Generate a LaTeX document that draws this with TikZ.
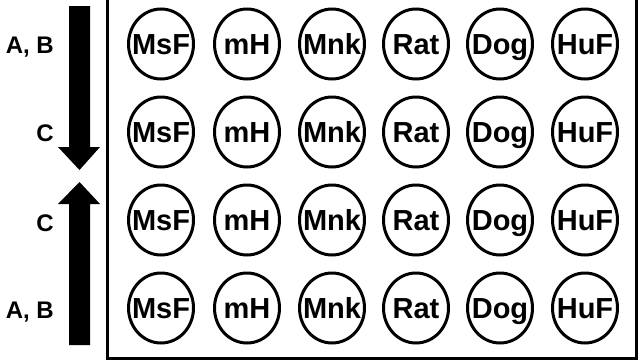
\documentclass[tikz,border=0pt]{standalone}
\usepackage{fontspec}
\setmainfont{Liberation Sans}

\tikzset{
  dish/.style={inner sep=0pt,anchor=base,
    font=\bfseries\fontsize{29}{29}\selectfont},
  ring/.style={draw,line width=3pt},
  lbl/.style={anchor=base east,inner sep=0pt,font=\bfseries\fontsize{24}{24}\selectfont},
  blockarrow/.style={fill=black,draw=none}
}

\begin{document}
\begin{tikzpicture}[x=1pt,y=-1pt]
\useasboundingbox (0,0) rectangle (640,362);
% frame, open at the top
\draw[line width=3pt] (107.5,0) -- (107.5,358.5) -- (636.5,358.5) -- (636.5,0);
% samples
\foreach \r/\yy in {1/44,2/132,3/220,4/308} {
  \foreach \c/\xx/\n in {1/161/MsF,2/247/mH,3/332/Mnk,4/416/Rat,5/500/Dog,6/585/HuF} {
    \coordinate (o-\r-\c) at (\xx,\yy);
    \draw[ring] (o-\r-\c) ellipse [x radius=32.5, y radius=35];
    \node[dish] (d-\r-\c) at ([yshift=-10.5pt]o-\r-\c) {\n};
  }
}
% labels
\node[lbl] (ab1) at (54,53) {A, B};
\node[lbl] (c1) at (54,141) {C};
\node[lbl] (c2) at (54,231) {C};
\node[lbl] (ab2) at (54,318) {A, B};
% block arrows
\fill[blockarrow] (69,6) -- (90,6) -- (90,147) -- (100,147) -- (79.5,170)
  -- (58,147) -- (69,147) -- cycle;
\fill[blockarrow] (69,345) -- (90,345) -- (90,204) -- (100,204) -- (79.5,182)
  -- (58,204) -- (69,204) -- cycle;
\end{tikzpicture}
\end{document}
